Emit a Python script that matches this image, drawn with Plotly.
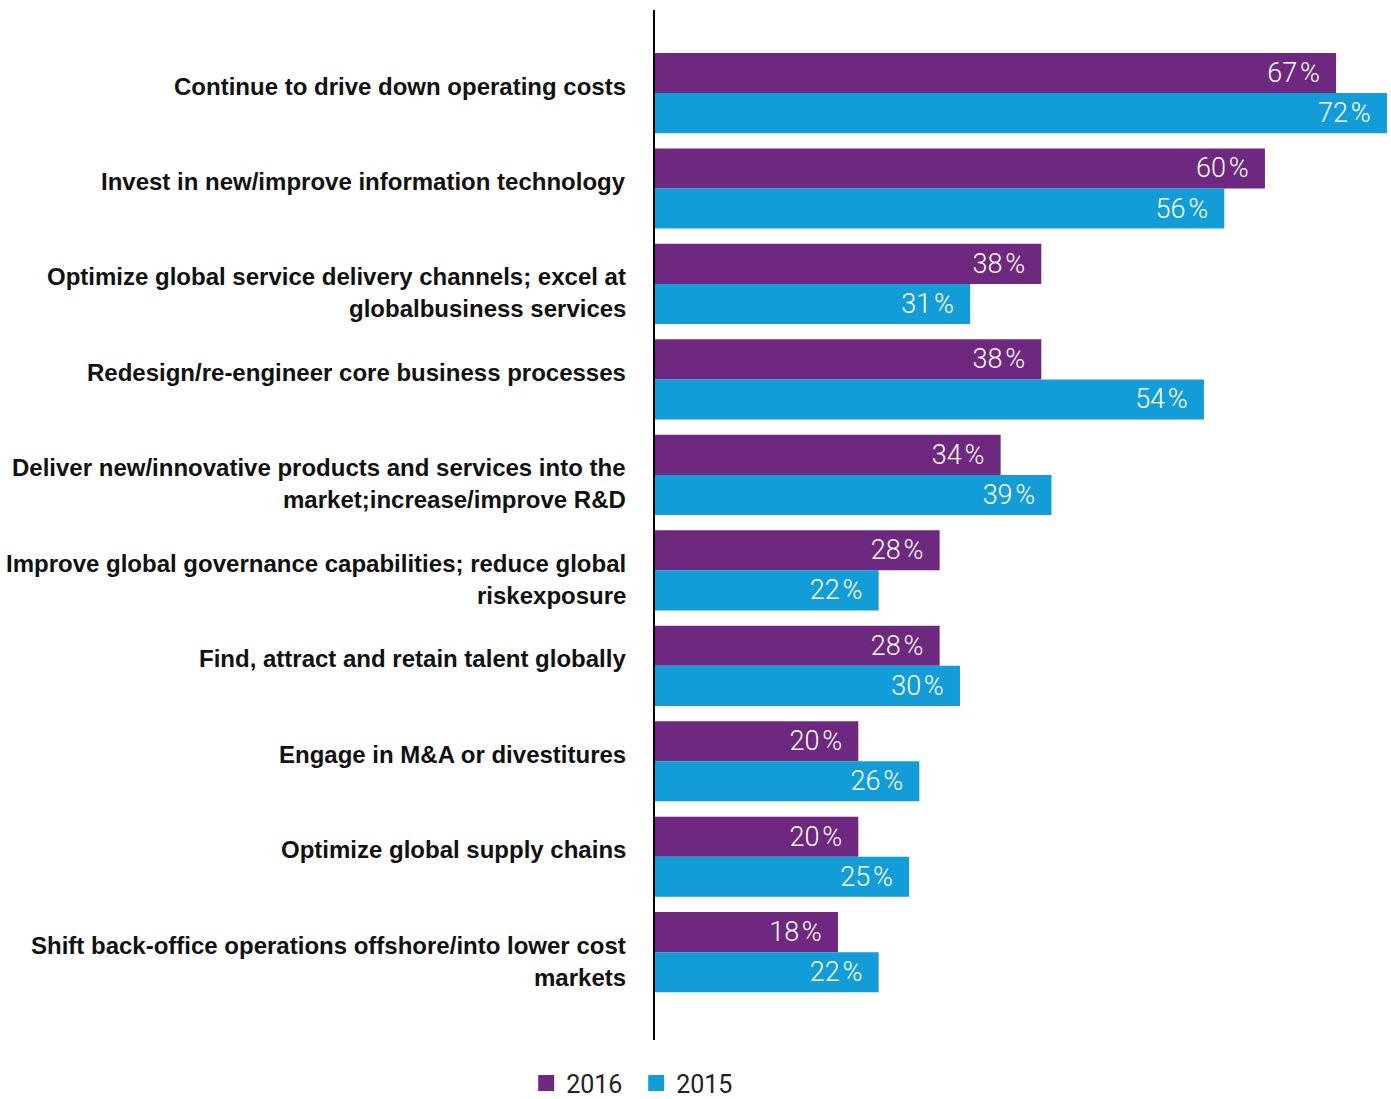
import plotly.graph_objects as go

categories = [
    "Continue to drive down operating costs",
    "Invest in new/improve information technology",
    "Optimize global service delivery channels; excel at<br>globalbusiness services",
    "Redesign/re-engineer core business processes",
    "Deliver new/innovative products and services into the<br>market;increase/improve R&D",
    "Improve global governance capabilities; reduce global<br>riskexposure",
    "Find, attract and retain talent globally",
    "Engage in M&A or divestitures",
    "Optimize global supply chains",
    "Shift back-office operations offshore/into lower cost<br>markets",
]
values_2016 = [67, 60, 38, 38, 34, 28, 28, 20, 20, 18]
values_2015 = [72, 56, 31, 54, 39, 22, 30, 26, 25, 22]
series_names = ["2016", "2015"]
colors = ["#6E2880", "#139DD8"]

ypos = list(range(len(categories)))

fig = go.Figure()
for name, vals, col in zip(series_names, [values_2016, values_2015], colors):
    fig.add_trace(go.Bar(
        name=name, y=ypos, x=vals, orientation="h",
        marker=dict(color=col, line=dict(width=0)),
        text=[f"{v}\u200a%\u00a0\u00a0" for v in vals],
        textposition="inside", insidetextanchor="end",
        textfont=dict(family="Roboto", size=27, color="white", weight=300),
        hoverinfo="skip", showlegend=False,
    ))
    fig.add_trace(go.Scatter(
        name=name, x=[None], y=[None], mode="markers",
        marker=dict(symbol="square", size=18, color=col),
        showlegend=True, hoverinfo="skip",
    ))

for i, lab in enumerate(categories):
    for j, line in enumerate(lab.split("<br>")):
        fig.add_annotation(
            x=0, xref="paper", xanchor="right", xshift=-27,
            y=i, yref="y", yanchor="middle", yshift=7 - 32 * j,
            text=line, align="right", showarrow=False,
            font=dict(family="Liberation Sans", size=24, color="#111111", weight="bold"),
        )

fig.update_layout(
    width=1391, height=1099,
    margin=dict(l=655, r=0, t=10, b=59, autoexpand=False),
    barmode="group", bargap=0.16, bargroupgap=0,
    plot_bgcolor="white", paper_bgcolor="white",
    xaxis=dict(range=[0, 72.4], visible=False, fixedrange=True),
    yaxis=dict(range=[9.92, -0.87], showticklabels=False, showgrid=False,
               zeroline=False, ticks="", showline=True, linecolor="black",
               linewidth=2, fixedrange=True),
    showlegend=True,
    legend=dict(orientation="h", x=-0.175, xanchor="left", y=-0.042, yanchor="middle",
                font=dict(family="Roboto", size=25, color="#222222"),
                traceorder="normal", itemwidth=30, entrywidth=65, tracegroupgap=0),
)

fig.write_html("out.html")
